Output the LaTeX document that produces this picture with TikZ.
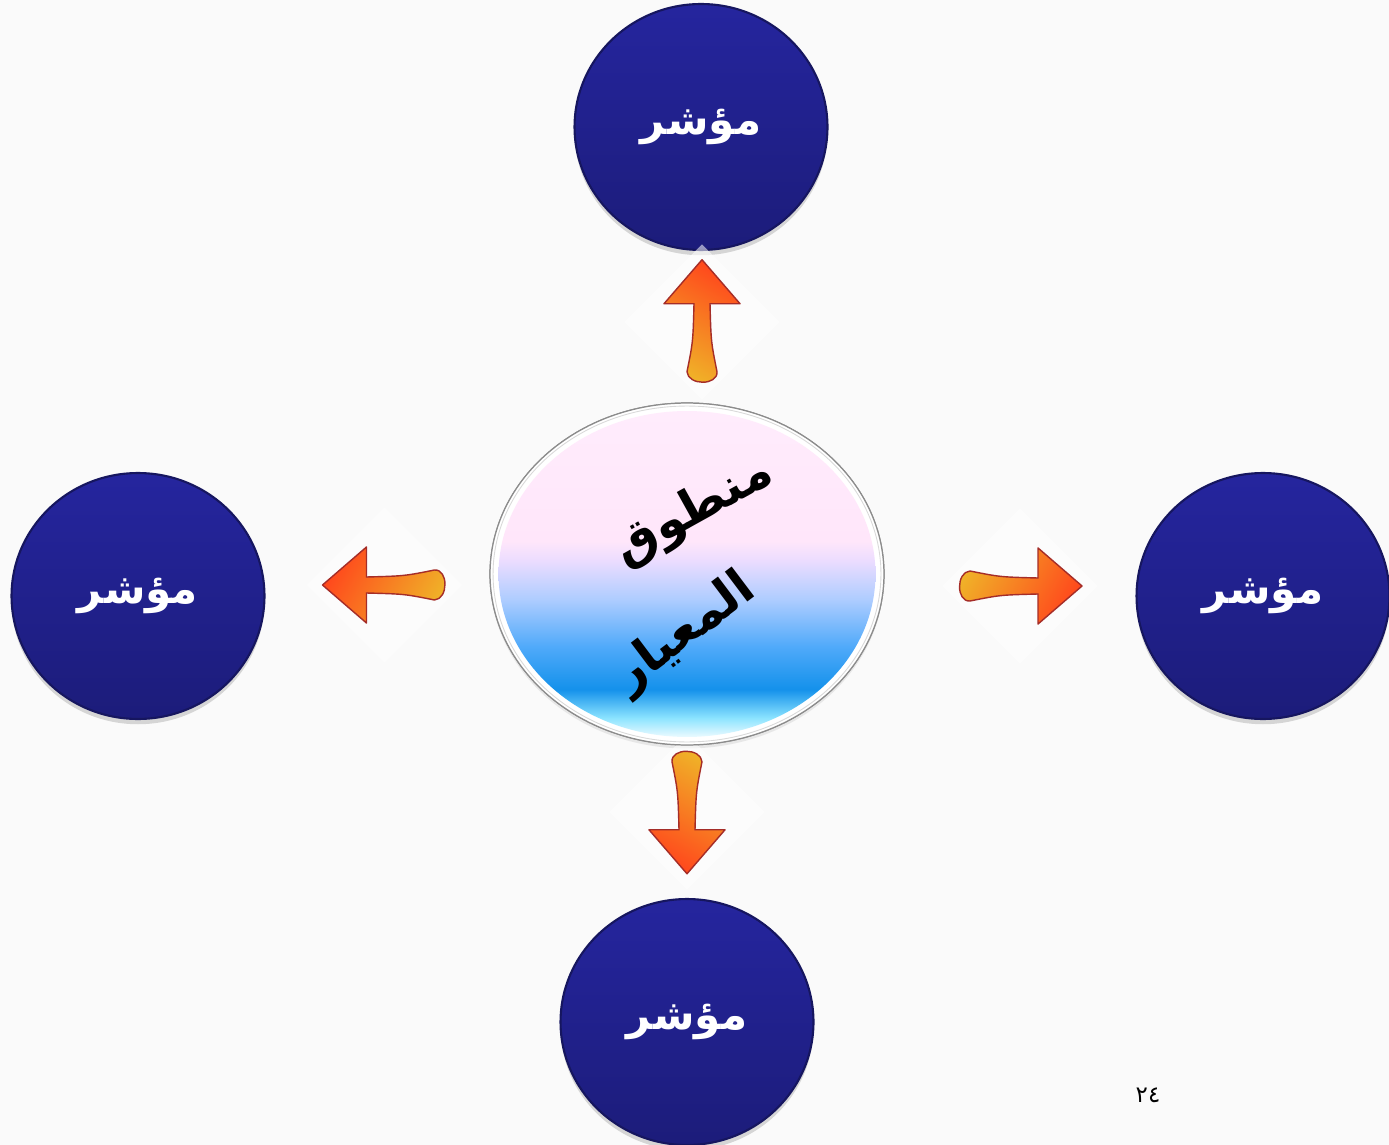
\documentclass[tikz,border=0pt]{standalone}
\usepackage{fontspec}
\newfontfamily\arabicfont[Script=Arabic]{DejaVu Sans}
\TeXXeTstate=1
\usetikzlibrary{shapes.geometric,shadows,calc}
\definecolor{bg}{RGB}{250,250,250}
\definecolor{navyT}{RGB}{37,37,158}
\definecolor{navyB}{RGB}{28,28,122}
\definecolor{navyR}{RGB}{22,22,95}
\definecolor{arrRed}{RGB}{255,72,28}
\definecolor{arrMid}{RGB}{255,140,32}
\definecolor{arrYel}{RGB}{240,178,40}
\definecolor{arrEdge}{RGB}{165,45,40}
\definecolor{bc0}{RGB}{235,250,255}
\definecolor{bc1}{RGB}{140,228,255}
\definecolor{bc2}{RGB}{20,145,235}
\definecolor{bc3}{RGB}{80,170,250}
\definecolor{bc4}{RGB}{175,205,255}
\definecolor{bc5}{RGB}{235,220,255}
\definecolor{bc6}{RGB}{255,230,250}
\definecolor{bc7}{RGB}{255,236,252}
\pgfdeclareverticalshading{bubble}{100bp}{color(0bp)=(bc0); color(25bp)=(bc0); color(27.9bp)=(bc1); color(32.3bp)=(bc2); color(38.9bp)=(bc3); color(46.2bp)=(bc4); color(52bp)=(bc5); color(55bp)=(bc6); color(75bp)=(bc7); color(100bp)=(bc7)}
\tikzset{
  indic/.style={ellipse, minimum width=5.06cm, minimum height=4.92cm, inner sep=0pt,
    top color=navyT, bottom color=navyB, draw=navyR, line width=1.2pt, text=white,
    font=\arabicfont\bfseries\fontsize{24}{28}\selectfont,
    drop shadow={shadow xshift=0pt, shadow yshift=-3pt, opacity=0.3}},
  arrowfill/.style={top color=arrRed, middle color=arrMid, bottom color=arrYel, draw=arrEdge, line width=0.8pt, line join=round},
  bgdiamond/.style={diamond, aspect=1, fill=white, fill opacity=0.55, inner sep=0pt, minimum width=3.1cm, minimum height=3.1cm},
  centerword/.style={text=black, font=\arabicfont\bfseries\fontsize{28}{32}\selectfont, inner sep=0pt}
}
\newcommand\blkarrow[3]{\shade[shift={(#1)}, rotate=#2, arrowfill, shading angle=#3]
  (0,-62) -- (38,-18) -- (8,-18) .. controls (9,20) .. (15,50)
  .. controls (16,64) and (-14,64) .. (-15,50) .. controls (-9,20) .. (-8,-18)
  -- (-38,-18) -- cycle;}
\begin{document}
\begin{tikzpicture}[x=0.02cm,y=-0.02cm]
\fill[bg] (0,0) rectangle (1389,1145);
\useasboundingbox (0,0) rectangle (1389,1145);
\clip (0,0) rectangle (1389,1145);
% indicator circles
\node[indic] (t) at (701,127) {\raisebox{-6pt}{\beginR مؤشر\endR}};
\node[indic] (l) at (138,596) {\raisebox{-6pt}{\beginR مؤشر\endR}};
\node[indic] (r) at (1263,596) {\raisebox{-6pt}{\beginR مؤشر\endR}};
\node[indic] (b) at (687,1022) {\raisebox{-6pt}{\beginR مؤشر\endR}};
% centre bubble
\node[ellipse, minimum width=7.88cm, minimum height=6.84cm, inner sep=0pt, fill=white,
  draw=black!45, line width=0.7pt,
  drop shadow={shadow xshift=0pt, shadow yshift=-2pt, opacity=0.15}] (c) at (687,574) {};
% arrow positions
\coordinate (aU) at ($(c.north)!0.5!(t.south)+(8,-5)$);
\coordinate (aL) at ($(c.west)!0.5!(l.east)+(7,0)$);
\coordinate (aD) at ($(c.south)!0.5!(b.north)+(0,-10)$);
\coordinate (aR) at ($(c.east)!0.5!(r.west)+(10,1)$);
\node[bgdiamond] (dU) at (aU) {};
\node[bgdiamond] (dL) at (aL) {};
\node[bgdiamond] (dR) at (aR) {};
\node[bgdiamond] (dD) at (aD) {};
% redraw centre bubble over diamonds
\fill[white] (c.center) ellipse [x radius=3.94cm, y radius=3.42cm];
\draw[black!45, line width=0.7pt] (c.center) ellipse [x radius=3.94cm, y radius=3.42cm];
\draw[black!15, line width=0.5pt] (c.center) ellipse [x radius=3.88cm, y radius=3.36cm];
\shade[shading=bubble] (c.center) ellipse [x radius=3.77cm, y radius=3.26cm];
\node[centerword, rotate=29] (w1) at (694,512) {\beginR منطوق\endR};
\node[centerword, rotate=37] (w2) at (685,633) {\beginR المعيار\endR};
% block arrows
\blkarrow{aU}{0}{-30}
\blkarrow{aL}{90}{60}
\blkarrow{aD}{180}{150}
\blkarrow{aR}{-90}{-120}
% page number
\node[font=\arabicfont\fontsize{13}{15}\selectfont, text=black] (pg) at (1148,1095) {٢٤};
\end{tikzpicture}
\end{document}
